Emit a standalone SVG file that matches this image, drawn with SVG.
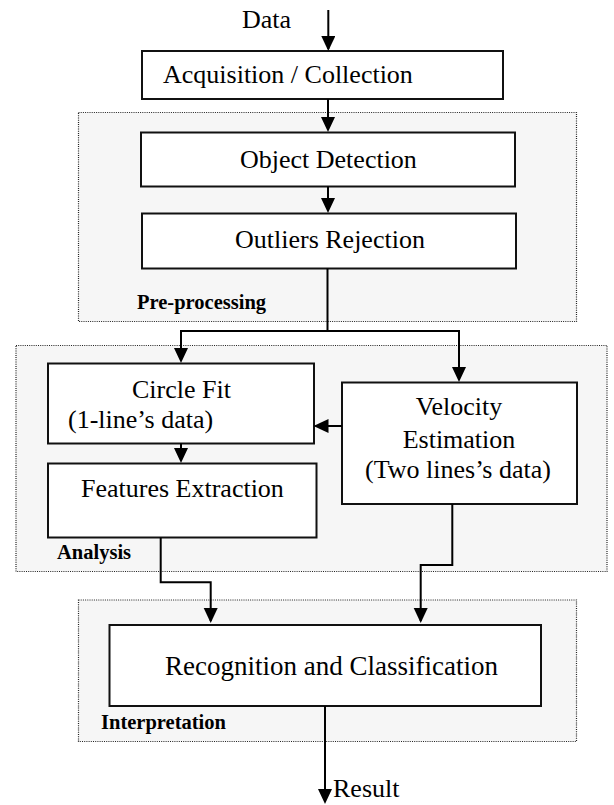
<svg xmlns="http://www.w3.org/2000/svg" width="614" height="805" viewBox="0 0 614 805">
<style>
  .grp { fill: #f6f6f6; stroke: #222; stroke-width: 1.2; stroke-dasharray: 1 1.2; }
  .box { fill: #ffffff; stroke: #111; stroke-width: 2; }
  .t { font-family: "Liberation Serif", "Times New Roman", serif; font-size: 26px; fill: #000; }
  .lbl { font-family: "Liberation Serif", "Times New Roman", serif; font-size: 20.5px; font-weight: bold; fill: #000; }
  .c { fill: none; stroke: #000; stroke-width: 2; marker-end: url(#ah); }
  .cn { fill: none; stroke: #000; stroke-width: 2; }
</style>
<defs>
  <marker id="ah" markerUnits="userSpaceOnUse" markerWidth="16" markerHeight="15" refX="13" refY="7" orient="auto">
    <path d="M0,0 L15,7 L0,14 z" fill="#000"/>
  </marker>
</defs>
<rect width="614" height="805" fill="#ffffff"/>

<g id="group-preprocessing">
  <rect class="grp" x="78.5" y="112.5" width="498" height="209"/>
  <text class="lbl" x="137" y="309">Pre-processing</text>
</g>
<g id="group-analysis">
  <rect class="grp" x="16" y="345.5" width="591" height="226"/>
  <text class="lbl" x="57" y="559">Analysis</text>
</g>
<g id="group-interpretation">
  <rect class="grp" x="78.5" y="600" width="498" height="141.5"/>
  <text class="lbl" x="101" y="729">Interpretation</text>
</g>

<g id="label-data">
  <text class="t" x="242" y="28">Data</text>
</g>
<g id="node-acquisition">
  <rect class="box" x="142" y="51" width="361" height="48"/>
  <text class="t" x="163" y="83">Acquisition / Collection</text>
</g>
<g id="node-object-detection">
  <rect class="box" x="141" y="132.5" width="374" height="54"/>
  <text class="t" x="240" y="167.5">Object Detection</text>
</g>
<g id="node-outliers">
  <rect class="box" x="142" y="213.5" width="374" height="55"/>
  <text class="t" x="235" y="248">Outliers Rejection</text>
</g>
<g id="node-circle-fit">
  <rect class="box" x="48" y="363.5" width="266" height="80"/>
  <text class="t" x="132" y="398">Circle Fit</text>
  <text class="t" x="68" y="428">(1-line’s data)</text>
</g>
<g id="node-velocity">
  <rect class="box" x="342" y="382.5" width="235" height="121.5"/>
  <text class="t" x="459" y="415" text-anchor="middle">Velocity</text>
  <text class="t" x="459" y="448" text-anchor="middle">Estimation</text>
  <text class="t" x="458" y="478" text-anchor="middle">(Two lines’s data)</text>
</g>
<g id="node-features">
  <rect class="box" x="48" y="463.5" width="268.5" height="74"/>
  <text class="t" x="81" y="497">Features Extraction</text>
</g>
<g id="node-recognition">
  <rect class="box" x="109.5" y="625" width="431.5" height="81"/>
  <text class="t" x="165" y="675" style="font-size:27px">Recognition and Classification</text>
</g>
<g id="label-result">
  <text class="t" x="333" y="797">Result</text>
</g>

<g id="connectors">
  <path class="c" d="M328.3,10 L328.3,49"/>
  <path class="c" d="M328,99 L328,130"/>
  <path class="c" d="M328,186.5 L328,211"/>
  <path class="cn" d="M327.5,268.5 L327.5,331 M180,331 L460,331"/>
  <path class="c" d="M181,330 L181,361"/>
  <path class="c" d="M459,330 L459,380"/>
  <path class="c" d="M342,426 L315.5,426"/>
  <path class="c" d="M181,443.5 L181,461"/>
  <path class="c" d="M160.7,537.5 L160.7,582.3 L210.7,582.3 L210.7,621"/>
  <path class="c" d="M452.3,504 L452.3,565 L420.7,565 L420.7,621"/>
  <path class="c" d="M325,706 L325,802"/>
</g>
</svg>
